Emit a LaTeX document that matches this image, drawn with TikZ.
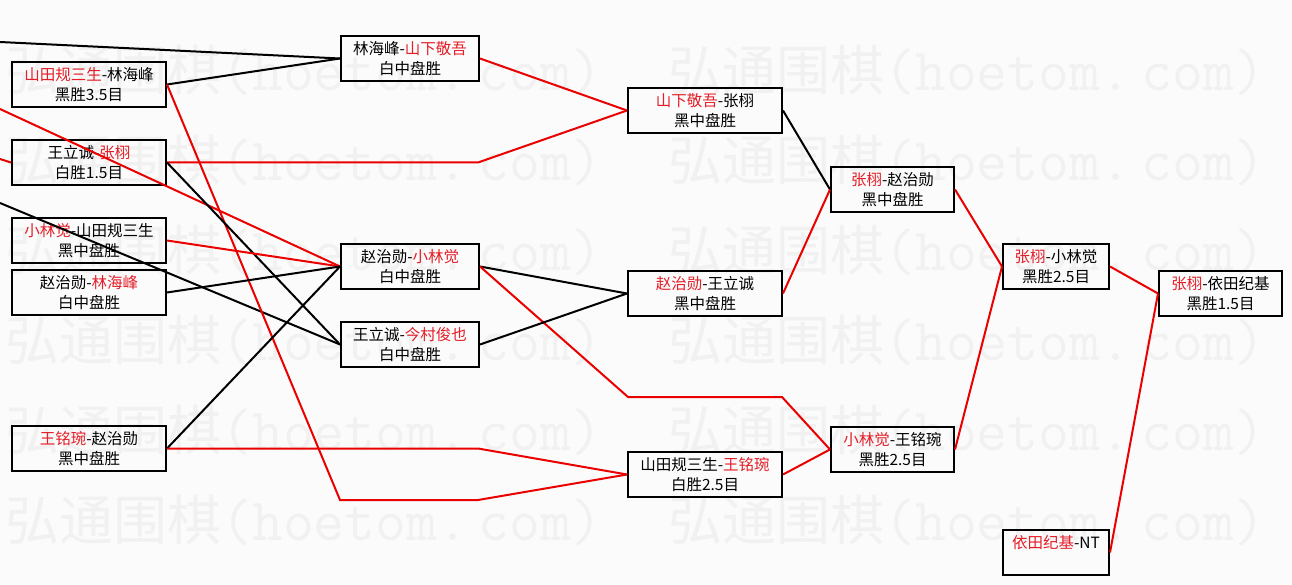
\documentclass[tikz,border=0pt]{standalone}
\usepackage{fontspec}
\newfontfamily\cjk{Noto Sans CJK SC}
\definecolor{lred}{RGB}{235,0,0}
\definecolor{tred}{RGB}{228,30,40}
\definecolor{bgc}{RGB}{251,251,251}
\definecolor{wmc}{RGB}{241,241,241}
\newcommand{\rn}[1]{\textcolor{tred}{#1}}
\begin{document}
\begin{tikzpicture}[x=1pt,y=-1pt,
  gbox/.style={draw=black, line width=2pt, minimum height=45pt, inner sep=0pt,
    align=center, font=\cjk\fontsize{15.5}{20}\selectfont, text=black},
  wideb/.style={gbox, minimum width=154pt},
  midb/.style={gbox, minimum width=138pt},
  narb/.style={gbox, minimum width=123pt},
  smlb/.style={gbox, minimum width=106pt},
  wl/.style={line width=2pt, black},
  rl/.style={line width=2pt, lred},
  wm/.style={anchor=west, inner sep=0pt, text=wmc}]
\fill[bgc] (0,0) rectangle (1292,585);
\useasboundingbox (0,0) rectangle (1292,585);
% watermark
\begin{scope}
\clip (0,0) rectangle (1292,585);
\foreach \yy [count=\i] in {70,160,250,340,430,520}{
  \foreach \xx [count=\j] in {5,668}{
    \node[wm] (wm\i\j) at (\xx,\yy) {{\cjk\fontsize{54}{54}\selectfont 弘通围棋}{\ttfamily\fontsize{60}{60}\selectfont (hoetom.\hspace{10pt}com)}};
  }
}
\end{scope}
% column 1
\node[wideb] (A1) at (89,84.5)  {\rn{山田规三生}-林海峰\\黑胜3.5目};
\node[wideb] (A2) at (89,162.5) {王立诚-\rn{张栩}\\白胜1.5目};
\node[wideb] (A3) at (89,240.5) {\rn{小林觉}-山田规三生\\黑中盘胜};
\node[wideb] (A4) at (89,292.5) {赵治勋-\rn{林海峰}\\白中盘胜};
\node[wideb] (A5) at (89,448.5) {\rn{王铭琬}-赵治勋\\黑中盘胜};
% column 2
\node[midb] (B1) at (410,58.5)  {林海峰-\rn{山下敬吾}\\白中盘胜};
\node[midb] (B2) at (410,266.5) {赵治勋-\rn{小林觉}\\白中盘胜};
\node[midb] (B3) at (410,344.5) {王立诚-\rn{今村俊也}\\白中盘胜};
% column 3
\node[wideb] (C1) at (705,110.5) {\rn{山下敬吾}-张栩\\黑中盘胜};
\node[wideb] (C2) at (705,293.5) {\rn{赵治勋}-王立诚\\黑中盘胜};
\node[wideb] (C3) at (705,474.5) {山田规三生-\rn{王铭琬}\\白胜2.5目};
% column 4
\node[narb] (D1) at (892.5,189.5) {\rn{张栩}-赵治勋\\黑中盘胜};
\node[narb] (D2) at (892.5,449.5) {\rn{小林觉}-王铭琬\\黑胜2.5目};
% column 5
\node[smlb] (E1) at (1056,266.5) {\rn{张栩}-小林觉\\黑胜2.5目};
\node[smlb] (E2) at (1056,552.5) {\rn{依田纪基}-NT\\\phantom{黑}};
% column 6
\node[narb] (F1) at (1220.5,293.5) {\rn{张栩}-依田纪基\\黑胜1.5目};
% free ends at the left edge
\coordinate (L1) at (0,42);
\coordinate (L2) at (0,109);
\coordinate (L3) at (0,159);
\coordinate (L4) at (0,203);
% bends
\coordinate (k1) at (340,500);
\coordinate (k2) at (478,500);
\coordinate (k3) at (478,162.5);
\coordinate (k4) at (478,448.5);
\coordinate (k5) at (628,397);
\coordinate (k6) at (782,397);
% connectors
\draw[wl] (L1) -- (B1.west);
\draw[rl] (L2) -- (B2.west);
\draw[rl] (L3) -- (A2.west);
\draw[wl] (L4) -- (B3.west);
\draw[wl] (A1.east) -- (B1.west);
\draw[rl] (A1.east) -- (k1) -- (k2) -- (C3.west);
\draw[rl] (A2.east) -- (k3) -- (C1.west);
\draw[wl] (A2.east) -- (B3.west);
\draw[rl] (A3.east) -- (B2.west);
\draw[wl] (A4.east) -- (B2.west);
\draw[wl] (A5.east) -- (B2.west);
\draw[rl] (A5.east) -- (k4) -- (C3.west);
\draw[rl] (B1.east) -- (C1.west);
\draw[wl] (B2.east) -- (C2.west);
\draw[rl] (B2.east) -- (k5) -- (k6) -- (D2.west);
\draw[wl] (B3.east) -- (C2.west);
\draw[wl] (C1.east) -- (D1.west);
\draw[rl] (C2.east) -- (D1.west);
\draw[rl] (C3.east) -- (D2.west);
\draw[rl] (D1.east) -- (E1.west);
\draw[rl] (D2.east) -- (E1.west);
\draw[rl] (E1.east) -- (F1.west);
\draw[rl] (E2.east) -- (F1.west);
\end{tikzpicture}
\end{document}
